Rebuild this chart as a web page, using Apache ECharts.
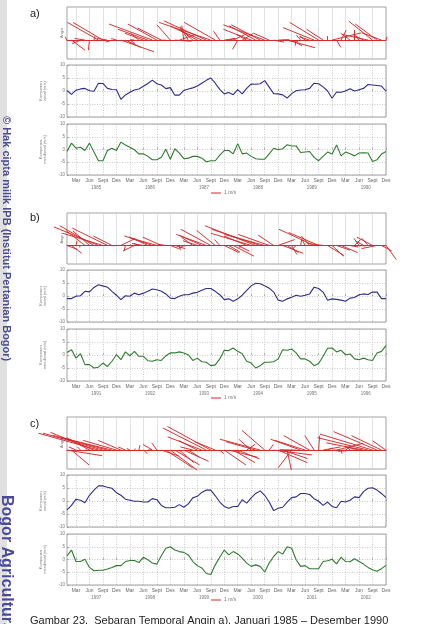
<!DOCTYPE html>
<html>
<head>
<meta charset="utf-8">
<script src="https://cdn.jsdelivr.net/npm/echarts@6/dist/echarts.min.js"></script>
<style>
  html, body { margin: 0; padding: 0; background: #fff; }
  #main { width: 424px; height: 624px; }
</style>
</head>
<body>
<div id="main"></div>
<script>
// month tick labels (Mar, Jun, Sept, Des) every 3 months, month index 0 = Januari
const monthLabels = ['Mar', 'Jun', 'Sept', 'Des'];
const tickMonths = [2, 5, 8, 11, 14, 17, 20, 23, 26, 29, 32, 35, 38, 41, 44, 47, 50, 53, 56, 59, 62, 65, 68, 71];
const yearTicks = [6.5, 18.5, 30.5, 42.5, 54.5, 66.5];

const yearsA = ['1985', '1986', '1987', '1988', '1989', '1990'];
const yearsB = ['1991', '1992', '1993', '1994', '1995', '1996'];
const yearsC = ['1997', '1998', '1999', '2000', '2001', '2002'];

// Komponen zonal / meridional (m/s), monthly
const zonalA = [0.2, -1.3, 0.3, 0.8, 1.0, 0.1, -0.1, 3.0, 2.9, 1.0, 0.6, 0.5,
  -3.2, -1.5, -0.5, 0.4, 0.8, 1.8, 2.9, 4.2, 2.8, 2.3, 0.9, 1.3,
  -1.6, -1.6, 0.2, 0.8, 1.2, 1.9, 3.0, 4.1, 5.0, 3.0, 0.6, -1.1,
  -0.6, -1.4, 0.5, -1.1, 1.0, 2.7, 2.6, 2.8, 4.0, 1.5, -1.0, -1.1,
  -1.5, -2.7, -1.0, 0.1, 0.4, 0.5, 1.0, 3.0, 2.8, 1.6, 0.0, -2.8,
  -0.4, -0.5, 0.0, 0.9, 0.0, 0.5, 1.0, 2.5, 2.3, 2.1, 1.9, -0.1];
const meridA = [-0.8, 2.5, 0.5, 0.9, -0.4, 2.5, -1.0, -4.4, -4.4, -0.4, 0.5, -0.4,
  2.9, 1.8, 0.9, -0.1, -1.7, -1.7, -2.7, -4.0, -4.0, -3.0, 0.1, -3.8,
  0.3, -1.4, -3.6, -3.4, -2.7, -2.7, -3.4, -4.8, -4.4, -4.4, -2.2, -0.4,
  -0.4, -1.7, 2.3, -1.7, -1.4, -2.7, -3.6, -3.8, -3.8, -1.7, 0.5, -0.1,
  0.3, 1.9, 1.4, 1.4, -1.2, -1.0, -0.8, -3.1, -4.4, -2.7, -1.0, -1.8,
  1.8, -2.5, -1.0, -1.7, -2.5, -1.4, -1.3, -1.4, -4.7, -4.0, -1.8, -0.8];

const zonalB = [-1.0, -1.0, -0.1, 0.1, 1.8, 1.6, 3.3, 4.3, 3.9, 3.4, 1.8, 0.3,
  -1.4, 0.1, -0.1, 1.1, 0.5, 1.1, 1.8, 2.7, 2.4, 1.8, 0.8, -0.8,
  -1.0, -0.1, 0.5, 0.5, 1.1, 1.4, 2.2, 2.9, 2.9, 1.8, 0.5, -1.4,
  -1.1, -2.0, -1.1, 0.3, 2.2, 3.9, 4.9, 4.7, 3.9, 3.0, 1.5, -1.6,
  -2.0, -1.1, -0.5, 0.3, -0.1, 0.3, 0.8, 3.4, 2.9, 1.5, -1.6, -1.1,
  -1.3, -1.6, -2.0, -0.8, -0.6, 0.5, 0.8, 0.6, 1.5, 1.5, -1.0, -1.0];
const meridB = [1.0, 2.0, -1.2, 0.5, -3.7, -3.7, -5.0, -4.7, -3.1, -4.4, -2.4, 0.1,
  -1.8, 1.2, -0.3, 1.4, -0.5, -0.5, -2.2, -2.4, -1.8, -2.1, -0.3, 0.8,
  0.8, 1.2, 0.8, 0.1, -2.1, -1.2, -2.6, -2.8, -4.1, -3.8, -1.5, 1.8,
  1.7, 2.7, 1.4, 0.5, -2.4, -3.1, -5.0, -4.1, -2.8, -2.8, -2.6, -1.5,
  2.0, 1.8, 2.3, 0.8, -1.5, -1.5, -2.4, -4.1, -3.3, -0.5, 2.6, 2.7,
  1.2, 1.8, 0.1, 0.4, -1.5, -1.8, -1.2, -1.8, -2.1, 0.8, 1.4, 3.6];

const zonalC = [-3.4, -1.7, 0.7, 0.3, -0.7, 2.2, 4.2, 5.8, 5.8, 5.3, 4.9, 3.2,
  2.2, 0.7, 0.3, -0.1, -0.1, -0.4, -0.4, 0.9, 0.5, -1.7, -2.6, -2.6,
  -2.4, -1.4, -2.4, -1.1, 1.2, 1.8, 3.3, 4.2, 4.2, 2.0, -0.4, -2.1,
  -2.8, -2.1, -2.1, 0.5, -0.8, 1.2, 2.9, 3.9, 2.2, -0.4, -3.7, -2.8,
  -2.4, -0.4, 1.3, 1.6, 2.9, 2.9, 2.5, 0.9, -0.1, -1.7, -0.4, -2.1,
  -2.6, -0.1, -0.4, 0.3, 1.6, 1.3, 3.6, 4.9, 5.1, 4.2, 2.9, 1.3];
const meridC = [1.4, 3.7, -0.8, -0.8, 0.1, -3.1, -4.4, -4.2, -4.2, -3.7, -3.1, -2.4,
  -2.4, -0.8, -0.4, -0.4, -1.2, 0.9, -0.1, -1.4, -1.8, 1.5, 4.4, 5.0,
  3.7, 3.1, 2.8, 1.8, -0.8, -2.4, -3.3, -5.5, -5.9, -2.1, 0.9, 3.7,
  1.8, 3.1, 2.2, 0.5, -1.4, -2.7, -2.1, -2.7, -4.9, -1.4, 1.2, 3.1,
  2.1, 5.0, 4.4, -0.1, -2.7, -2.4, -3.6, -3.6, -3.6, -0.8, -0.5, 0.1,
  -1.7, 0.9, -0.8, -0.9, 0.3, -0.8, -1.8, -3.1, -4.0, -4.6, -3.6, -2.3];

const FONT = '"Liberation Sans", Arial, sans-serif';
const RED = '#d42a2a';

const panels = [
  { label: 'a)', labelY: 8, years: yearsA, zonal: zonalA, merid: meridA,
    boxes: [[7, 52], [65, 52], [124, 51]], legendY: 193 },
  { label: 'b)', labelY: 212, years: yearsB, zonal: zonalB, merid: meridB,
    boxes: [[213, 51], [270, 52], [329, 52]], legendY: 398 },
  { label: 'c)', labelY: 418, years: yearsC, zonal: zonalC, merid: meridC,
    boxes: [[417, 52], [475, 52], [534, 51]], legendY: 600 }
];

const chart = echarts.init(document.getElementById('main'), null, { renderer: 'canvas' });

const grids = [], xAxes = [], yAxes = [], series = [], graphics = [];
const stickX = 2.3;   // months per m/s
const stickY = 0.85;

function monthAxis(gridIndex, showLabels) {
  return {
    type: 'value', gridIndex: gridIndex, min: 0, max: 71,
    axisLine: { show: false },
    axisTick: { show: true, inside: true, length: 2, customValues: tickMonths,
      lineStyle: { color: '#888', width: 0.6 } },
    axisLabel: { show: showLabels, customValues: tickMonths, margin: 3,
      fontSize: 5, color: '#666', fontFamily: FONT,
      formatter: v => monthLabels[((v % 12) - 2) / 3] },
    splitLine: { show: true, lineStyle: { type: [1, 1.5], color: '#a8a8a8', width: 0.6 } }
  };
}

function compAxis(gridIndex, name) {
  return {
    type: 'value', gridIndex: gridIndex, min: -10, max: 10, interval: 5,
    axisLine: { show: false },
    axisTick: { show: true, inside: true, length: 2, lineStyle: { color: '#888', width: 0.6 } },
    axisLabel: { fontSize: 4.5, color: '#777', margin: 2, fontFamily: FONT },
    splitLine: { show: true, lineStyle: { type: [1, 1.5], color: '#a8a8a8', width: 0.6 } },
    name: name, nameLocation: 'middle', nameGap: 12,
    nameTextStyle: { fontSize: 4, color: '#777', lineHeight: 4.5, fontFamily: FONT }
  };
}

panels.forEach((p, k) => {
  p.boxes.forEach(b => {
    grids.push({ left: 67, right: 38, top: b[0], height: b[1], show: true,
      borderColor: '#8a8a8a', borderWidth: 0.8, backgroundColor: '#fff' });
  });
  const g = 3 * k;
  const xi = 4 * k;

  // stick panel
  const sx = monthAxis(g, false);
  sx.axisTick.show = false;
  sx.axisLine = { show: true, onZero: true, lineStyle: { color: RED, width: 1 } };
  sx.splitLine = { show: true, lineStyle: { color: '#cfcfcf', width: 0.6 } };
  xAxes.push(sx);
  xAxes.push(monthAxis(g + 1, false));
  xAxes.push(monthAxis(g + 2, true));
  xAxes.push({
    type: 'value', gridIndex: g + 2, min: 0, max: 71, position: 'bottom', offset: 8,
    axisLine: { show: false },
    axisTick: { show: false, customValues: yearTicks },
    axisLabel: { customValues: yearTicks, margin: 2, fontSize: 4.5, color: '#777', fontFamily: FONT,
      formatter: v => p.years[Math.floor(v / 12)] },
    splitLine: { show: false }
  });

  yAxes.push({
    type: 'value', gridIndex: g, min: -4, max: 7,
    axisLine: { show: false }, axisTick: { show: false }, axisLabel: { show: false },
    splitLine: { show: false },
    name: 'Angin', nameLocation: 'middle', nameGap: 3,
    nameTextStyle: { fontSize: 4, color: '#777', fontFamily: FONT }
  });
  yAxes.push(compAxis(g + 1, 'Komponen\nzonal (m/s)'));
  yAxes.push(compAxis(g + 2, 'Komponen\nmeridional (m/s)'));

  series.push({
    type: 'lines', name: '1 m/s', coordinateSystem: 'cartesian2d',
    xAxisIndex: xi, yAxisIndex: g, clip: false, silent: true,
    lineStyle: { color: RED, width: 1, opacity: 0.95 },
    data: p.zonal.map((u, i) => ({ coords: [[i, 0], [i - stickX * u, -stickY * p.merid[i]]] }))
  });
  series.push({
    type: 'line', xAxisIndex: xi + 1, yAxisIndex: g + 1, symbol: 'none',
    lineStyle: { color: '#2e2e8e', width: 1.1 },
    data: p.zonal.map((v, i) => [i, v])
  });
  series.push({
    type: 'line', xAxisIndex: xi + 2, yAxisIndex: g + 2, symbol: 'none',
    lineStyle: { color: '#2f7d2f', width: 1.1 },
    data: p.merid.map((v, i) => [i, v])
  });

  // key: "1 m/s"
  graphics.push({ type: 'line', shape: { x1: 211, y1: p.legendY, x2: 221, y2: p.legendY },
    style: { stroke: RED, lineWidth: 1 } });
  graphics.push({ type: 'text', x: 224, y: p.legendY,
    style: { text: '1 m/s', font: '5px ' + FONT, fill: '#777', verticalAlign: 'middle' } });

  graphics.push({
    type: 'text', left: 30, top: p.labelY,
    style: { text: p.label, font: '11px ' + FONT, fill: '#222' }
  });
});

// side watermark strip
graphics.push({ type: 'rect', left: 0, top: 0, shape: { width: 7, height: 624 },
  style: { fill: '#e0e0e0' } });
graphics.push({ type: 'text', x: 12, y: 116, rotation: -Math.PI / 2,
  style: { text: '\u00a9 Hak cipta milik IPB (Institut Pertanian Bogor)',
    font: 'bold 11px ' + FONT, fill: '#4a4a9a', verticalAlign: 'top' } });
graphics.push({ type: 'text', x: 14, y: 495, rotation: -Math.PI / 2,
  style: { text: 'Bogor Agricultural University',
    font: 'bold 16px ' + FONT, fill: '#4a4a9a', verticalAlign: 'top' } });

graphics.push({
  type: 'text', left: 30, top: 615,
  style: { text: 'Gambar 23.  Sebaran Temporal Angin a). Januari 1985 \u2013 Desember 1990',
    font: '11px ' + FONT, fill: '#222' }
});

chart.setOption({
  animation: false,
  backgroundColor: '#fff',
  grid: grids,
  xAxis: xAxes,
  yAxis: yAxes,
  series: series,
  graphic: graphics
});

window.addEventListener('resize', () => {
  chart.resize();
});
</script>
</body>
</html>
